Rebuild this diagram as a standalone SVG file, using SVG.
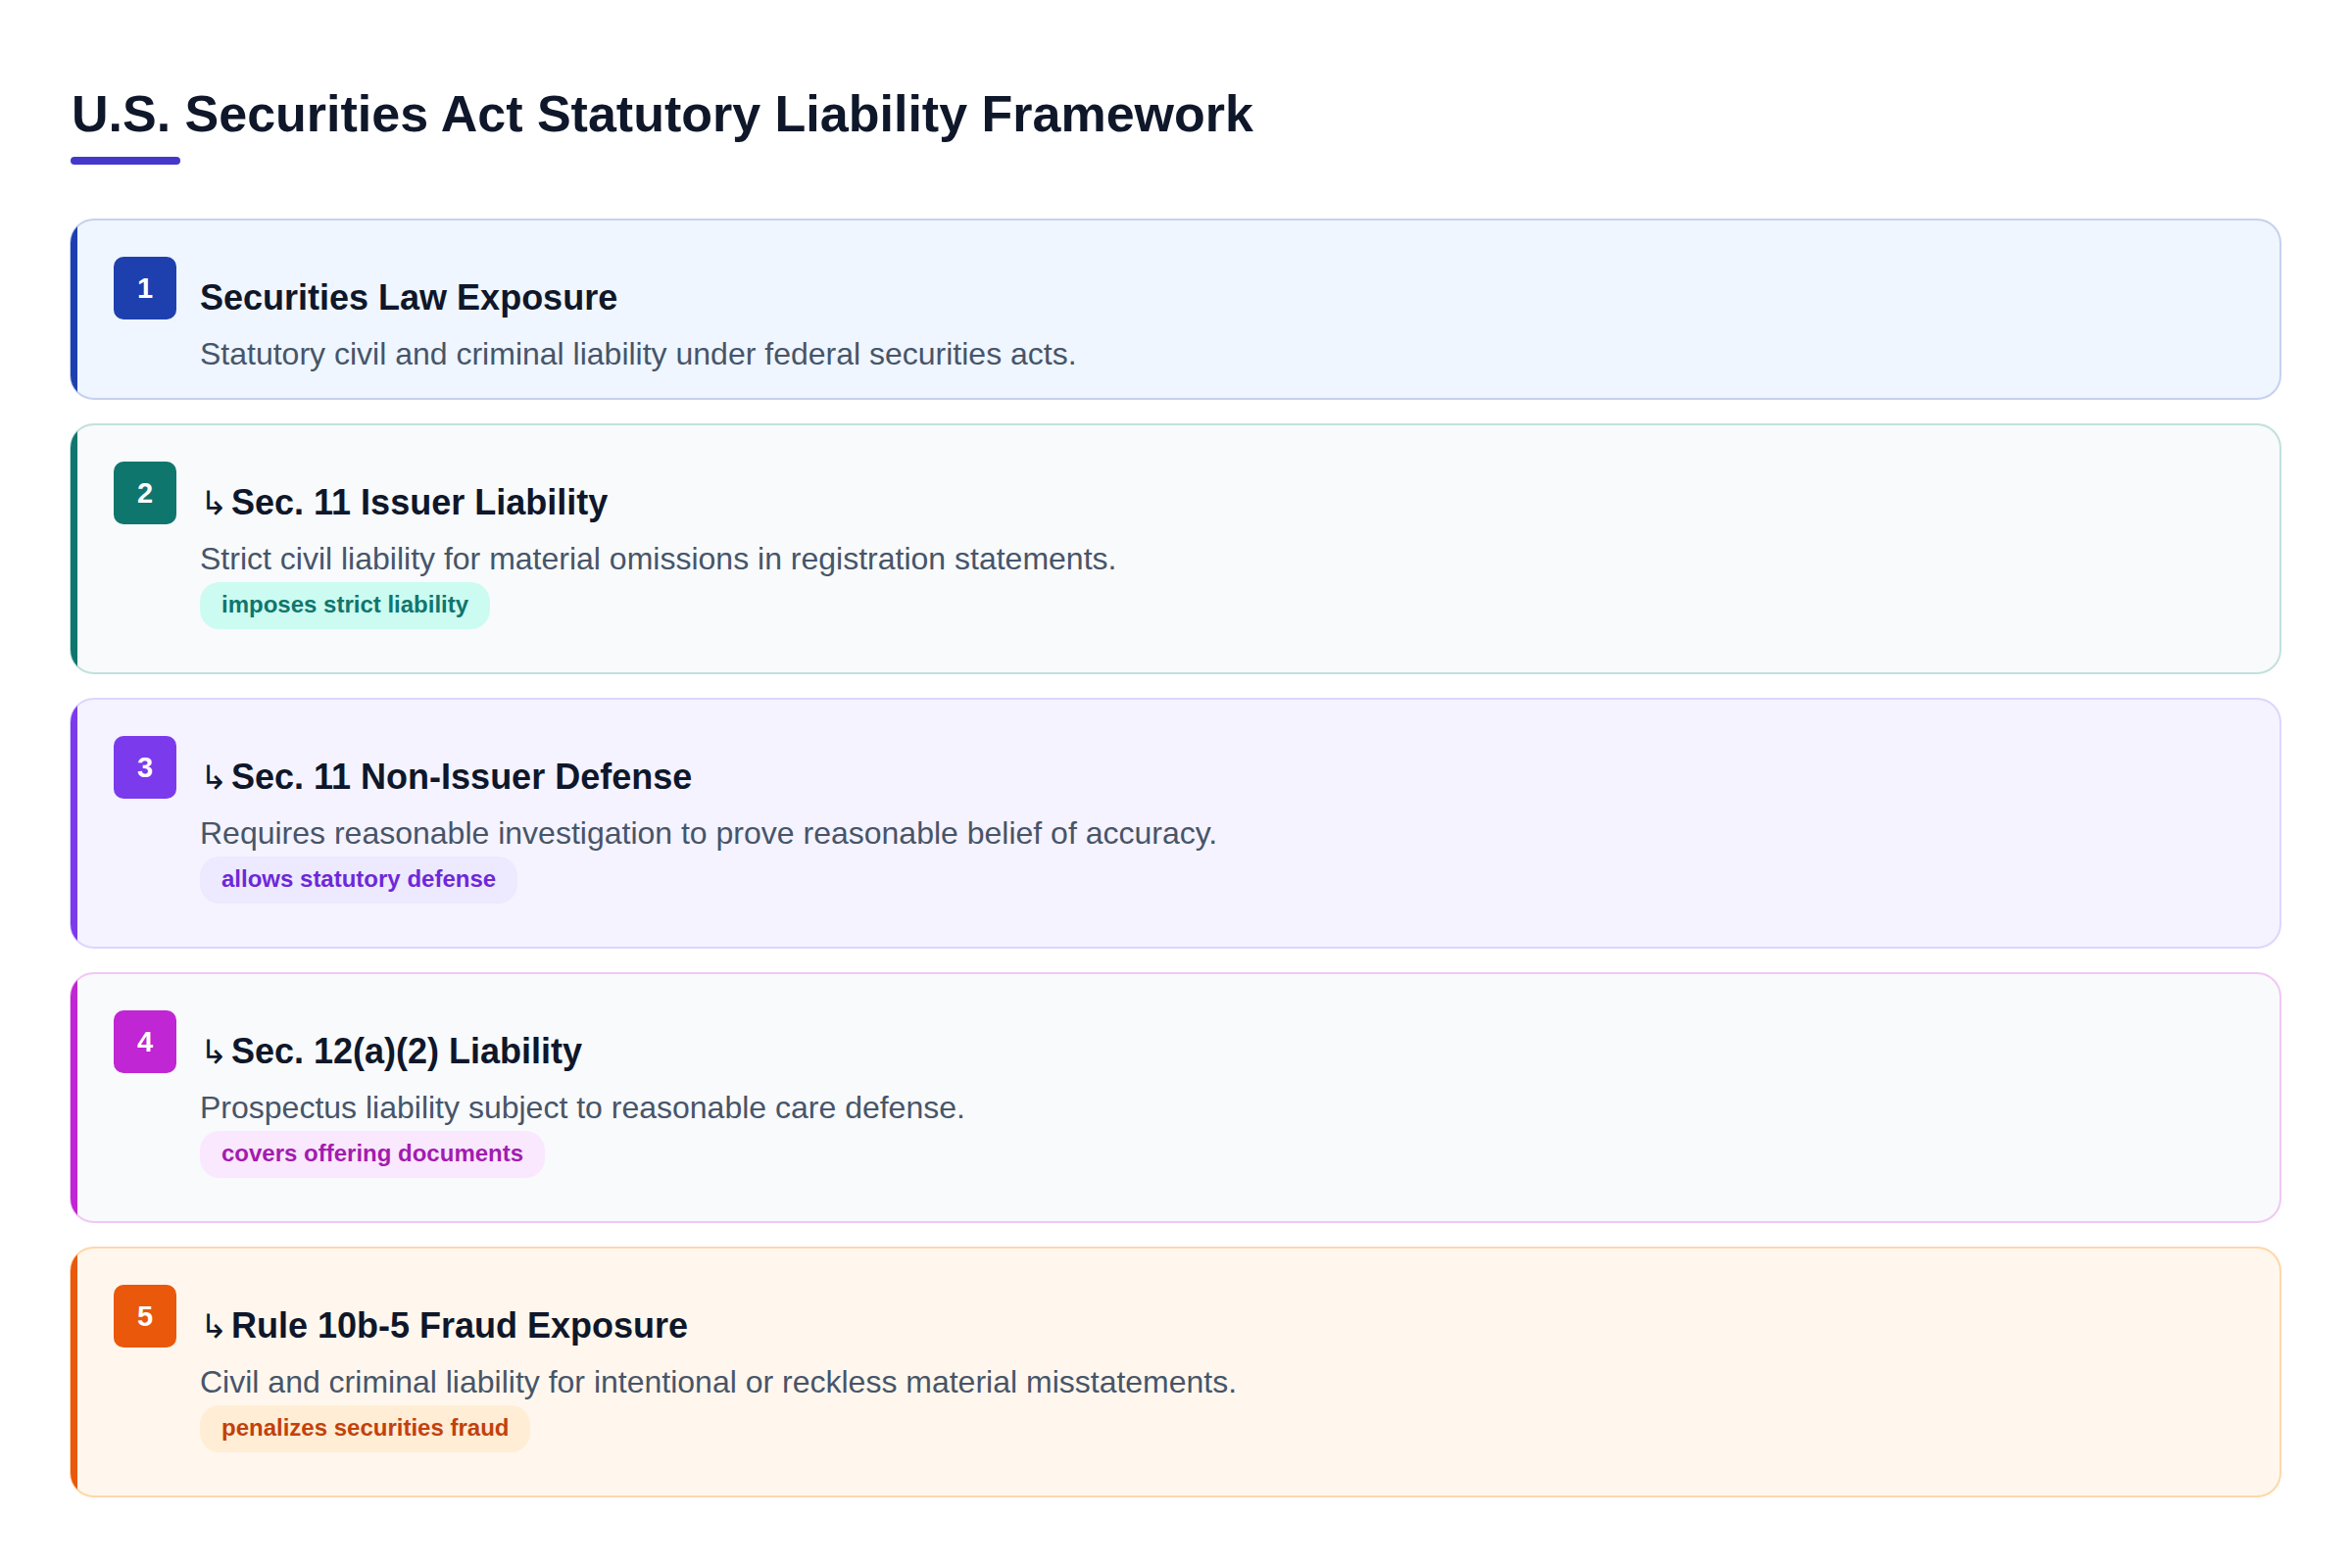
<svg xmlns="http://www.w3.org/2000/svg" width="2400" height="1600" viewBox="0 0 2400 1600">
<style>
  text { font-family: "Liberation Sans", Arial, "DejaVu Sans", sans-serif; }
  .h1 { font-size: 52px; font-weight: 700; fill: #0f172a; }
  .ttl { font-size: 36px; font-weight: 700; fill: #0f172a; }
  .arr { font-weight: 400; font-family: "Noto Sans", "DejaVu Sans", sans-serif; font-size: 34px; }
  .sub { font-size: 32px; fill: #475569; }
  .num { font-size: 29px; font-weight: 700; fill: #ffffff; text-anchor: middle; }
  .tag { font-size: 24px; font-weight: 700; }
  .card { stroke-width: 2; }
</style>
<defs>
  <clipPath id="cl1"><rect x="72" y="224" width="2255" height="183" rx="24"/></clipPath>
  <clipPath id="cl2"><rect x="72" y="433" width="2255" height="254" rx="24"/></clipPath>
  <clipPath id="cl3"><rect x="72" y="713" width="2255" height="254" rx="24"/></clipPath>
  <clipPath id="cl4"><rect x="72" y="993" width="2255" height="254" rx="24"/></clipPath>
  <clipPath id="cl5"><rect x="72" y="1273" width="2255" height="254" rx="24"/></clipPath>
</defs>
<rect x="0" y="0" width="2400" height="1600" fill="#ffffff"/>

<g id="header">
  <text class="h1" x="73" y="134">U.S. Securities Act Statutory Liability Framework</text>
  <rect x="72" y="160" width="112" height="8" rx="4" fill="#4338ca"/>
</g>

<g id="connectors"></g>

<g id="node1">
  <rect class="card" x="72" y="224" width="2255" height="183" rx="24" fill="#eff6ff" stroke="#c6d1ef"/>
  <rect x="72" y="224" width="7" height="183" fill="#1e40af" clip-path="url(#cl1)"/>
  <rect x="116" y="262" width="64" height="64" rx="10" fill="#1e40af"/>
  <text class="num" x="148" y="304">1</text>
  <text class="ttl" x="204" y="316">Securities Law Exposure</text>
  <text class="sub" x="204" y="372">Statutory civil and criminal liability under federal securities acts.</text>
</g>

<g id="node2">
  <rect class="card" x="72" y="433" width="2255" height="254" rx="24" fill="#f8fafc" stroke="#c3e0dc"/>
  <rect x="72" y="433" width="7" height="254" fill="#0f766e" clip-path="url(#cl2)"/>
  <rect x="116" y="471" width="64" height="64" rx="10" fill="#0f766e"/>
  <text class="num" x="148" y="513">2</text>
  <text class="ttl" x="204" y="525"><tspan class="arr">↳</tspan><tspan x="236">Sec. 11 Issuer Liability</tspan></text>
  <text class="sub" x="204" y="581">Strict civil liability for material omissions in registration statements.</text>
  <rect x="204" y="594" width="296" height="48" rx="20" fill="#ccfbf1"/>
  <text class="tag" x="226" y="625" fill="#0f766e">imposes strict liability</text>
</g>

<g id="node3">
  <rect class="card" x="72" y="713" width="2255" height="254" rx="24" fill="#f5f3ff" stroke="#ddd6fe"/>
  <rect x="72" y="713" width="7" height="254" fill="#7c3aed" clip-path="url(#cl3)"/>
  <rect x="116" y="751" width="64" height="64" rx="10" fill="#7c3aed"/>
  <text class="num" x="148" y="793">3</text>
  <text class="ttl" x="204" y="805"><tspan class="arr">↳</tspan><tspan x="236">Sec. 11 Non-Issuer Defense</tspan></text>
  <text class="sub" x="204" y="861">Requires reasonable investigation to prove reasonable belief of accuracy.</text>
  <rect x="204" y="874" width="324" height="48" rx="20" fill="#ede9fe"/>
  <text class="tag" x="226" y="905" fill="#6d28d9">allows statutory defense</text>
</g>

<g id="node4">
  <rect class="card" x="72" y="993" width="2255" height="254" rx="24" fill="#f8fafc" stroke="#f0c8f3"/>
  <rect x="72" y="993" width="7" height="254" fill="#c026d3" clip-path="url(#cl4)"/>
  <rect x="116" y="1031" width="64" height="64" rx="10" fill="#c026d3"/>
  <text class="num" x="148" y="1073">4</text>
  <text class="ttl" x="204" y="1085"><tspan class="arr">↳</tspan><tspan x="236">Sec. 12(a)(2) Liability</tspan></text>
  <text class="sub" x="204" y="1141">Prospectus liability subject to reasonable care defense.</text>
  <rect x="204" y="1154" width="352" height="48" rx="20" fill="#fae8ff"/>
  <text class="tag" x="226" y="1185" fill="#a21caf">covers offering documents</text>
</g>

<g id="node5">
  <rect class="card" x="72" y="1273" width="2255" height="254" rx="24" fill="#fff7ed" stroke="#fed7aa"/>
  <rect x="72" y="1273" width="7" height="254" fill="#ea580c" clip-path="url(#cl5)"/>
  <rect x="116" y="1311" width="64" height="64" rx="10" fill="#ea580c"/>
  <text class="num" x="148" y="1353">5</text>
  <text class="ttl" x="204" y="1365"><tspan class="arr">↳</tspan><tspan x="236">Rule 10b-5 Fraud Exposure</tspan></text>
  <text class="sub" x="204" y="1421">Civil and criminal liability for intentional or reckless material misstatements.</text>
  <rect x="204" y="1434" width="337" height="48" rx="20" fill="#ffedd5"/>
  <text class="tag" x="226" y="1465" fill="#c2410c">penalizes securities fraud</text>
</g>
</svg>
